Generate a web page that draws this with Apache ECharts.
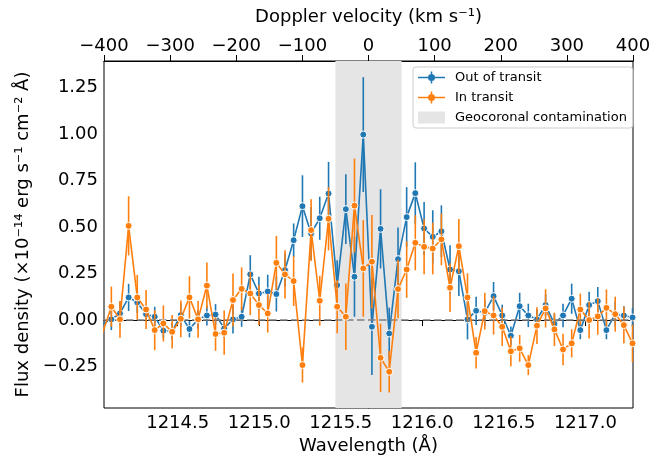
<!DOCTYPE html>
<html>
<head>
<meta charset="utf-8">
<script src="https://cdn.jsdelivr.net/npm/echarts@6/dist/echarts.min.js"></script>
<style>
  html, body { margin: 0; padding: 0; background: #fff; }
  #chart { width: 667px; height: 461px; }
</style>
</head>
<body>
<div id="chart"></div>
<script>
// wavelength grid (Å), one entry per spectral pixel
const wavelength = [
  1214.039, 1214.093, 1214.146, 1214.199, 1214.252, 1214.306, 1214.359, 1214.412, 1214.466, 1214.519,
  1214.572, 1214.625, 1214.679, 1214.732, 1214.785, 1214.839, 1214.892, 1214.945, 1214.998, 1215.052,
  1215.105, 1215.158, 1215.211, 1215.265, 1215.318, 1215.371, 1215.425, 1215.478, 1215.531, 1215.584,
  1215.638, 1215.691, 1215.744, 1215.797, 1215.851, 1215.904, 1215.957, 1216.011, 1216.064, 1216.117,
  1216.170, 1216.224, 1216.277, 1216.330, 1216.383, 1216.437, 1216.490, 1216.543, 1216.597, 1216.650,
  1216.703, 1216.756, 1216.810, 1216.863, 1216.916, 1216.969, 1217.023, 1217.076, 1217.129, 1217.183,
  1217.236, 1217.289
];

const outFlux = [
  -0.02, 0.004, 0.036, 0.122, 0.095, 0.032, 0.018, -0.057, -0.059, 0.027,
  -0.048, 0.004, 0.025, 0.030, -0.045, 0.004, 0.018, 0.246, 0.143, 0.154,
  0.140, 0.269, 0.430, 0.613, 0.466, 0.548, 0.681, 0.188, 0.597, 0.233,
  0.998, -0.036, 0.491, -0.072, 0.328, 0.554, 0.683, 0.493, 0.448, 0.478,
  0.272, 0.263, 0.004, 0.050, 0.039, 0.129, 0.025, -0.084, 0.075, 0.025,
  0.004, 0.081, -0.020, 0.025, 0.115, -0.054, 0.081, 0.102, -0.054, 0.032,
  0.025, 0.014
];
const outErr = [
  0.05, 0.058, 0.065, 0.073, 0.058, 0.040, 0.054, 0.040, 0.045, 0.063,
  0.045, 0.05, 0.054, 0.056, 0.05, 0.076, 0.054, 0.103, 0.090, 0.090,
  0.094, 0.09, 0.090, 0.166, 0.143, 0.116, 0.170, 0.134, 0.188, 0.215,
  0.309, 0.260, 0.213, 0.139, 0.170, 0.161, 0.166, 0.143, 0.143, 0.139,
  0.130, 0.134, 0.108, 0.076, 0.070, 0.076, 0.058, 0.049, 0.072, 0.063,
  0.054, 0.058, 0.054, 0.063, 0.081, 0.049, 0.072, 0.076, 0.049, 0.067,
  0.049, 0.05
];

const inFlux = [
  -0.07, 0.072, 0.004, 0.507, 0.122, 0.057, -0.054, -0.018, -0.063, 0.007,
  0.122, 0.004, 0.186, -0.075, -0.068, 0.108, 0.168, 0.143, 0.081, 0.036,
  0.308, 0.246, 0.210, -0.242, 0.484, 0.104, 0.545, 0.072, 0.018, 0.616,
  0.278, 0.314, -0.203, -0.278, 0.167, 0.272, 0.416, 0.394, 0.385, 0.434,
  0.174, 0.398, 0.122, -0.176, 0.048, 0.025, -0.036, -0.168, -0.152, -0.242,
  -0.030, 0.063, -0.050, -0.158, -0.125, 0.057, 0.0, 0.020, 0.066, 0.032,
  -0.027, -0.125
];
const inErr = [
  0.06, 0.108, 0.099, 0.159, 0.121, 0.105, 0.108, 0.097, 0.090, 0.099,
  0.114, 0.099, 0.124, 0.090, 0.119, 0.143, 0.116, 0.116, 0.108, 0.103,
  0.145, 0.130, 0.134, 0.094, 0.166, 0.134, 0.170, 0.143, 0.179, 0.253,
  0.260, 0.251, 0.184, 0.112, 0.157, 0.152, 0.148, 0.148, 0.139, 0.139,
  0.130, 0.146, 0.130, 0.085, 0.099, 0.103, 0.103, 0.081, 0.072, 0.054,
  0.099, 0.103, 0.090, 0.085, 0.076, 0.085, 0.099, 0.099, 0.099, 0.094,
  0.099, 0.1
];

const waveTicks = [1214.5, 1215.0, 1215.5, 1216.0, 1216.5, 1217.0];
const fluxTicks = [-0.25, 0, 0.25, 0.5, 0.75, 1.0, 1.25];
const geoBand = [1215.467, 1215.873];

const blue = '#1f77b4';
const orange = '#ff7f0e';
const font = 'DejaVu Sans';

const minus = s => s.replace('-', '\u2212');

// line + vertical error bar + dot, like the matplotlib errorbar handle (all subpaths clockwise)
const errbarIcon = 'path://M0 5.25H27V6.75H0Z M12.75 0H14.25V12H12.75Z M10 6A3.5 3.5 0 1 1 17 6A3.5 3.5 0 1 1 10 6Z';

const errData = (flux, err) => wavelength.map((w, i) => [w, flux[i] - err[i], flux[i] + err[i]]);
const lineData = flux => wavelength.map((w, i) => [w, flux[i]]);

const errSeries = (name, flux, err, color, z) => ({
  name: name,
  type: 'custom',
  xAxisIndex: 0,
  yAxisIndex: 0,
  clip: true,
  z: z,
  silent: true,
  encode: {x: 0, y: [1, 2]},
  data: errData(flux, err),
  renderItem: (params, api) => {
    const a = api.coord([api.value(0), api.value(1)]);
    const b = api.coord([api.value(0), api.value(2)]);
    return {
      type: 'line',
      shape: {x1: a[0], y1: a[1], x2: b[0], y2: b[1]},
      style: {stroke: color, lineWidth: 1.6}
    };
  }
});

const pointSeries = (name, flux, color, z) => ({
  name: name,
  type: 'line',
  xAxisIndex: 0,
  yAxisIndex: 0,
  z: z,
  data: lineData(flux),
  symbol: 'circle',
  symbolSize: 7,
  showAllSymbol: true,
  color: color,
  lineStyle: {color: color, width: 1.6},
  itemStyle: {color: color, borderColor: '#fff', borderWidth: 1}
});

let chart = echarts.init(document.getElementById('chart'));

let option = {
  animation: false,
  grid: {
    left: 104,
    right: 34,
    top: 61,
    bottom: 53,
    show: true,
    borderColor: '#000',
    borderWidth: 1,
    backgroundColor: 'transparent'
  },
  legend: {
    orient: 'vertical',
    left: 413,
    top: 67,
    padding: [4, 6, 4, 5],
    itemWidth: 27,
    itemHeight: 12,
    itemGap: 7,
    itemStyle: {borderWidth: 0},
    backgroundColor: 'rgba(255,255,255,0.8)',
    borderColor: '#cccccc',
    borderWidth: 1,
    borderRadius: 3,
    textStyle: {fontFamily: font, fontSize: 13, color: '#000', padding: [0, 0, 0, 5]},
    data: [
      {name: 'Out of transit', icon: errbarIcon},
      {name: 'In transit', icon: errbarIcon},
      {name: 'Geocoronal contamination', icon: 'rect'}
    ]
  },
  xAxis: [
    {
      type: 'value',
      position: 'bottom',
      min: 1214.048,
      max: 1217.292,
      name: 'Wavelength (Å)',
      nameLocation: 'middle',
      nameGap: 29,
      nameTextStyle: {fontFamily: font, fontSize: 18, color: '#000'},
      axisLine: {show: true, lineStyle: {color: '#000', width: 1}},
      axisTick: {show: true, inside: false, length: 6, customValues: waveTicks, lineStyle: {color: '#000'}},
      axisLabel: {
        customValues: waveTicks,
        fontFamily: font, fontSize: 18, color: '#000', margin: 6,
        formatter: v => v.toFixed(1)
      },
      splitLine: {show: false}
    },
    {
      type: 'value',
      position: 'top',
      min: -400,
      max: 400,
      interval: 100,
      name: 'Doppler velocity (km s⁻¹)',
      nameLocation: 'middle',
      nameGap: 35,
      nameTextStyle: {fontFamily: font, fontSize: 18, color: '#000'},
      axisLine: {show: true, lineStyle: {color: '#000', width: 1}},
      axisTick: {show: true, inside: false, length: 6, lineStyle: {color: '#000'}},
      axisLabel: {
        fontFamily: font, fontSize: 18, color: '#000', margin: 6,
        formatter: v => minus(String(v))
      },
      splitLine: {show: false}
    }
  ],
  yAxis: {
    type: 'value',
    min: -0.473,
    max: 1.394,
    name: 'Flux density (×10⁻¹⁴ erg s⁻¹ cm⁻² Å)',
    nameLocation: 'middle',
    nameGap: 72,
    nameTextStyle: {fontFamily: font, fontSize: 18, color: '#000'},
    axisLine: {show: true, lineStyle: {color: '#000', width: 1}},
    axisTick: {show: true, inside: false, length: 6, customValues: fluxTicks, lineStyle: {color: '#000'}},
    axisLabel: {
      customValues: fluxTicks,
      fontFamily: font, fontSize: 18, color: '#000', margin: 6,
      formatter: v => minus(v.toFixed(2))
    },
    splitLine: {show: false}
  },
  series: [
    {
      name: 'Geocoronal contamination',
      type: 'line',
      xAxisIndex: 0,
      yAxisIndex: 0,
      z: 1,
      data: [],
      color: '#e5e5e5',
      itemStyle: {color: '#e5e5e5'},
      markArea: {
        silent: true,
        itemStyle: {color: '#e5e5e5'},
        data: [[{xAxis: geoBand[0]}, {xAxis: geoBand[1]}]]
      },
      markLine: {
        silent: true,
        symbol: 'none',
        label: {show: false},
        lineStyle: {color: '#7f7f7f', type: [7.5, 3.5], width: 1.5},
        data: [{yAxis: 0}]
      }
    },
    errSeries('Out of transit err', outFlux, outErr, blue, 2),
    pointSeries('Out of transit', outFlux, blue, 3),
    errSeries('In transit err', inFlux, inErr, orange, 4),
    pointSeries('In transit', inFlux, orange, 5)
  ]
};

chart.setOption(option);
</script>
</body>
</html>
